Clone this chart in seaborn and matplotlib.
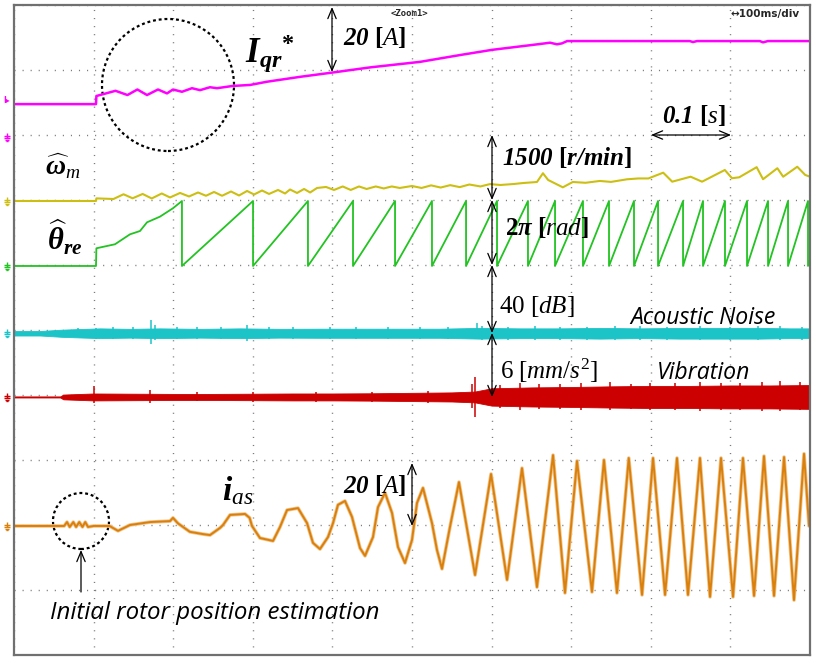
import numpy as np
import pandas as pd
import matplotlib
matplotlib.use("Agg")
import matplotlib.pyplot as plt
import seaborn as sns
from matplotlib.patches import Ellipse
from matplotlib.path import Path

# ---------------- data (time in ms, 100 ms/div) ----------------
# Iqr* command current [A]
iqr_t = [0, 103, 103.5, 127.5, 142.5, 155, 167.1, 180.9, 192.2, 199.7, 211, 223.6, 233.7,
         246.2, 255, 275, 296.6, 318, 359.5, 399.6, 447.2, 510, 560.3, 600.5, 660.8, 673.4,
         682.2, 688.5, 694.8, 849, 853, 858, 937, 941, 947, 1000]
iqr_a = [9.5, 9.5, 12.0, 13.6, 12.3, 14.0, 12.3, 14.0, 12.8, 14.0, 13.3, 14.4, 13.8,
         14.7, 14.4, 15.1, 15.4, 16.4, 17.9, 19.2, 20.8, 22.5, 24.6, 26.2, 28.0, 28.4,
         27.9, 28.2, 28.9, 28.9, 28.6, 28.9, 28.9, 28.5, 28.9, 28.9]

# estimated speed [r/min]
spd_t = [0, 103, 103.5, 125, 137.6, 149, 161.6, 173, 185.6, 196, 208.6, 219.9, 231.2, 241.2,
         251.3, 261.4, 272.6, 282.7, 292.8, 301.6, 311.6, 320.4, 331.7, 340.5, 346.8, 355.6,
         364.4, 372, 380.7, 392, 402, 413, 423, 433.4, 443, 454.5, 464.5, 474.6, 484.6, 500,
         512, 524, 536, 548, 560, 572, 586, 598, 611, 628, 640, 657, 664.5, 671, 689.5, 702,
         718, 736, 750, 770, 784.4, 797, 815.6, 826.9, 850, 864.4, 893, 902, 911, 933, 941,
         959, 966.3, 984, 994, 1000]
spd_rpm = [0, 0, 60, 46, 155, 62, 162, 58, 173, 81, 185, 104, 196, 120,
           208, 120, 219, 127, 231, 150, 242, 162, 254, 173, 265, 185,
           277, 196, 300, 323, 254, 335, 254, 335, 277, 335, 289, 335, 300, 346,
           300, 360, 310, 365, 320, 380, 335, 390, 369, 392, 415, 438, 640, 485, 315, 438,
           420, 462, 440, 500, 520, 520, 653, 445, 560, 445, 715, 525, 546, 780, 502,
           756, 560, 790, 600, 560]

# estimated electrical angle [rad]: first slow ramp, then wrap instants
theta_first_t = [0, 103, 103.5, 126.9, 145.7, 158.3, 167.1, 183.4, 199.7, 211]
theta_first_rad = [0, 0, 1.71, 2.1, 3.06, 3.38, 4.22, 4.77, 5.58, 6.28]
theta_wrap_t = [211, 300.3, 369.3, 425.9, 478.7, 525.1, 567.9, 606.8, 645.7, 679.7, 714.8,
                747.5, 778.9, 809.1, 840.5, 865.6, 893.2, 920.9, 947.3, 972.4, 997.5]
theta_end_rad = 0.6

# acoustic noise envelope [dB] and spikes
ac_env_t = [0, 33, 60, 83, 108, 146, 183, 234, 284, 334, 384, 435, 485, 535, 585, 636,
            686, 736, 786, 837, 887, 937, 975, 1000]
ac_env_db = [1.4, 1.4, 2.2, 2.6, 3.0, 2.7, 3.0, 2.7, 3.0, 2.7, 2.8, 2.8, 2.8, 2.8, 3.3, 3.0,
             3.0, 3.3, 3.0, 3.3, 3.3, 3.3, 3.0, 3.0]
ac_spk_t = [80.4, 103, 125, 150, 172, 177, 205, 230, 260, 292.7, 320, 350, 397, 430, 470,
            510, 545, 581.7, 588, 620, 655, 686, 720, 755, 786, 820, 862, 900, 935, 962, 990]
ac_spk_hi = [3.5, 3.5, 3.6, 3.8, 8.0, 5.0, 3.6, 3.8, 3.6, 4.8, 3.6, 3.7, 3.9, 3.6, 3.8,
             3.6, 3.8, 6.5, 4.4, 3.9, 4.2, 4.0, 4.1, 4.3, 4.2, 4.0, 4.3, 4.1, 4.4, 4.2, 4.0]
ac_spk_lo = [-2.4, -3.5, -3.5, -3.7, -6.5, -4.4, -3.5, -3.6, -3.7, -4.8, -3.5, -3.6, -3.8,
             -3.5, -3.7, -3.6, -3.7, -3.8, -4.4, -3.9, -4.1, -4.0, -4.2, -4.1, -4.2, -4.0,
             -4.1, -4.3, -4.1, -4.2, -4.0]

# vibration envelope [mm/s^2] and spikes
vib_env_t = [0, 58, 62, 100, 150, 200, 250, 300, 350, 400, 450, 500, 550, 579, 600, 650,
             700, 750, 800, 850, 900, 950, 1000]
vib_env = [0.05, 0.05, 0.22, 0.32, 0.3, 0.28, 0.28, 0.3, 0.32, 0.32, 0.34, 0.38, 0.42, 0.5,
           0.8, 0.88, 0.92, 0.98, 1.02, 1.02, 1.06, 1.06, 1.1]
vib_spk_t = [100.5, 171, 230, 300, 380, 450, 520, 575.4, 579, 610, 636, 660, 686, 712, 749,
             775, 799, 830, 862, 888, 912, 940, 962, 987]
vib_spk_hi = [1.0, 0.65, 0.42, 0.45, 0.46, 0.5, 0.55, 1.2, 1.85, 1.1, 1.3, 1.15, 1.2, 1.25,
              1.35, 1.2, 1.25, 1.3, 1.4, 1.25, 1.3, 1.35, 1.45, 1.35]
vib_spk_lo = [-0.55, -0.55, -0.4, -0.42, -0.45, -0.48, -0.52, -1.0, -1.85, -1.05, -1.2,
              -1.1, -1.1, -1.2, -1.25, -1.15, -1.2, -1.25, -1.3, -1.2, -1.2, -1.3, -1.3, -1.25]

# phase current i_as [A]
ias_t = [0, 60, 63, 66.6, 70, 74.5, 78, 82, 86, 89.5, 93, 100, 120, 130.7, 145.7, 170.9,
         196, 199.7, 206, 221, 237.4, 246.2, 258.8, 262.6, 271.4, 290.2, 296, 299, 309,
         325.4, 334.2, 343, 356.8, 368.1, 375.6, 384.4, 394.5, 400.8, 407, 415.8, 424.6,
         434.7, 441, 451, 457.3, 466.1, 474.9, 482.4, 491.2, 500, 506.3, 513.8, 525.1,
         531.4, 537.7, 547.7, 559, 579.2, 599.3, 619.4, 638.2, 657, 677.2, 692.2, 707.3,
         726.1, 741.2, 757.5, 772.3, 789, 802.8, 817.9, 832.9, 846.7, 861.8, 874.4, 888.2,
         903.3, 915.8, 929.7, 942.2, 954.8, 967.4, 979.9, 992.5, 998.8]
ias_a = [0, 0, 0, 1.2, -0.3, 1.2, -0.3, 1.2, -0.3, 1.2, -0.3, 0, 0.0, -1.5, 0.3, 1.2,
         1.5, 2.5, 0.8, -1.8, -2.5, -2.8, -0.6, 0.3, 3.4, 3.7, 2.5, 0, -3.7,
         -4.6, -0.3, 4.9, 5.5, 0.9, -5.2, -7.1, -3.4, 0.9, 6.5, 7.7, 2.8,
         -6.8, -9.2, -3.4, 5.8, 10.2, 4.0, -6.5, -11.4, -4.3, 7.1, 11.7, 0.9,
         -7.4, -13.2, -0.3, 13.5, -15.1, 16.0, -16.6, 17.8, -18.8, 21.8, -20.6, 20.0,
         -20.3, 20.3, -20.6, 20.9, -21.2, 20.9, -21.2, 20.9, -21.2, 20.9, -21.8, 20.9,
         -21.8, 20.9, -21.5, 21.5, -21.5, 21.2, -22.8, 22.2, 0]

# channel settings: (ground level [div], units per div, colour)
CH = {
    "iqr": (8.0, 20.0, "#ff00ff"),
    "spd": (6.985, 1500.0, "#cdbf12"),
    "th": (5.985, 2 * np.pi, "#22c322"),
    "ac": (4.95, 40.0, "#1cc4c8"),
    "vib": (3.97, 6.0, "#cc0000"),
    "ias": (1.985, 20.0, "#d9800c"),
}


def to_div(ch, vals):
    g, s, _ = CH[ch]
    return g + np.asarray(vals, dtype=float) / s


# build sawtooth from read wrap instants
th_t = list(theta_first_t)
th_v = list(theta_first_rad)
for a, b in zip(theta_wrap_t[:-1], theta_wrap_t[1:]):
    th_t += [a, b]
    th_v += [0.0, 2 * np.pi]
th_t += [theta_wrap_t[-1], 1000]
th_v += [0.0, theta_end_rad]

# ---------------- style ----------------
sns.set_style("white")
plt.rcParams["font.family"] = ["DejaVu Sans"]
plt.rcParams["mathtext.fontset"] = "custom"
plt.rcParams["mathtext.rm"] = "Liberation Serif"
plt.rcParams["mathtext.it"] = "Liberation Serif:italic"
plt.rcParams["mathtext.bf"] = "Liberation Serif:bold"
plt.rcParams["mathtext.bfit"] = "Liberation Serif:italic:bold"
plt.rcParams["mathtext.sf"] = "Liberation Sans"

fig = plt.figure(figsize=(8.17, 6.64), dpi=100)
fig.patch.set_facecolor("white")
ax = fig.add_axes([14 / 817, 9 / 664, 796 / 817, 650 / 664])
ax.set_xlim(0, 1000)
ax.set_ylim(0, 10)
ax.set_xticks(np.arange(0, 1001, 100))
ax.set_yticks(np.arange(0, 11, 1))
ax.tick_params(length=0, labelbottom=False, labelleft=False)
ax.grid(True, color="#7c7c7c", ls=(0, (0.8, 5.0)), lw=1.0)
for s in ax.spines.values():
    s.set_color("#707070")
    s.set_linewidth(1.6)


def X(px):
    return (px - 14) * 1000.0 / 796.0


def Y(py):
    return (655 - py) / 65.0


# ---------------- traces ----------------
sns.lineplot(x=iqr_t, y=to_div("iqr", iqr_a), estimator=None, sort=False,
             color=CH["iqr"][2], lw=1.8, ax=ax)
sns.lineplot(x=spd_t, y=to_div("spd", spd_rpm), estimator=None, sort=False,
             color=CH["spd"][2], lw=1.5, ax=ax)
sns.lineplot(x=th_t, y=to_div("th", th_v), estimator=None, sort=False,
             color=CH["th"][2], lw=1.3, ax=ax)

# acoustic noise band
ac_c = CH["ac"][0]
env = np.asarray(ac_env_db) / CH["ac"][1]
ax.fill_between(ac_env_t, ac_c - env, ac_c + env, color=CH["ac"][2], lw=0.6)
ax.vlines(ac_spk_t, to_div("ac", ac_spk_lo), to_div("ac", ac_spk_hi), color=CH["ac"][2], lw=1.1)

# vibration band
vb_c = CH["vib"][0]
env = np.asarray(vib_env) / CH["vib"][1]
ax.fill_between(vib_env_t, vb_c - env, vb_c + env, color=CH["vib"][2], lw=0.6)
ax.vlines(vib_spk_t, to_div("vib", vib_spk_lo), to_div("vib", vib_spk_hi), color=CH["vib"][2], lw=1.1)

# phase current with a light halo like the scope trace
sns.lineplot(x=ias_t, y=to_div("ias", ias_a), estimator=None, sort=False,
             color="#f2c48a", lw=2.6, ax=ax)
sns.lineplot(x=ias_t, y=to_div("ias", ias_a), estimator=None, sort=False,
             color=CH["ias"][2], lw=1.4, ax=ax)
for ln in ax.lines:
    ln.set_solid_joinstyle("round")

# ---------------- channel markers (ground symbol drawn as a shape) ----------------
gnd = Path([(-0.5, 0.0), (0.5, 0.0), (0.0, 0.0), (0.0, -0.45), (-0.5, -0.45), (0.5, -0.45),
            (-0.3, -0.7), (0.3, -0.7), (-0.12, -0.95), (0.12, -0.95), (0.0, 0.0), (0.0, 0.5)],
           [Path.MOVETO, Path.LINETO, Path.MOVETO, Path.LINETO, Path.MOVETO, Path.LINETO,
            Path.MOVETO, Path.LINETO, Path.MOVETO, Path.LINETO, Path.MOVETO, Path.LINETO])
for key, py in [("iqr", 136), ("spd", 200), ("th", 265), ("ac", 332), ("vib", 396), ("ias", 525)]:
    ax.plot([X(7)], [Y(py)], marker=gnd, ms=7, mew=1.0, mec=CH[key][2], mfc="none",
            ls="none", clip_on=False)
ax.text(X(7), Y(100), "I\u25b8", color=CH["iqr"][2], fontsize=5.5, ha="center", va="center",
        weight="bold", clip_on=False)

# ---------------- header texts ----------------
ax.text(X(409), Y(13), "<Zoom1>", fontsize=6.5, family="DejaVu Sans Mono", weight="bold",
        ha="center", va="center")
ax.text(X(731), Y(14), "\u2194100ms/div", fontsize=7.5, weight="bold", ha="left", va="center")


# ---------------- annotations ----------------
def dbl(x1, y1, x2, y2, style="<->"):
    ax.annotate("", xy=(X(x2), Y(y2)), xytext=(X(x1), Y(y1)),
                arrowprops=dict(arrowstyle=style + ",head_length=0.6,head_width=0.25",
                                lw=0.9, color="black", shrinkA=0, shrinkB=0,
                                mutation_scale=12))


dbl(332, 7, 332, 72)
dbl(651, 135, 731, 135)
dbl(492, 135, 492, 200)
dbl(492, 200, 492, 265)
dbl(492, 265, 492, 333)
dbl(492, 333, 492, 397)
dbl(412, 463, 412, 526)
dbl(81, 592, 81, 550, style="->")

for cx, cy, r in [(168, 85, 66), (81, 521, 28)]:
    ax.add_patch(Ellipse((X(cx), Y(cy)), width=2 * r * 1000 / 796, height=2 * r / 65,
                         fill=False, ec="black", lw=1.6, ls=(0, (1.3, 1.3))))

serif = dict(ha="left", va="baseline", color="black")
ax.text(X(245), Y(63), r"$\mathbfit{I}_{\mathbfit{qr}}{}^{\mathbf{*}}$", fontsize=25, **serif)
ax.text(X(343), Y(45), r"$\mathbfit{20}\ \mathbf{[}\mathit{A}\mathbf{]}$", fontsize=18, **serif)
ax.text(X(45), Y(175), r"$\widehat{\mathbfit{\omega}}_{\mathit{m}}$", fontsize=20, **serif)
ax.text(X(47), Y(250), r"$\widehat{\mathbfit{\theta}}_{\mathbfit{re}}$", fontsize=22, **serif)
ax.text(X(502), Y(165), r"$\mathbfit{1500}\ \mathbf{[}\mathbfit{r/min}\mathbf{]}$", fontsize=18, **serif)
ax.text(X(505), Y(235), r"$\mathbf{2}\mathbfit{\pi}\ \mathbf{[}\mathit{rad}\mathbf{]}$", fontsize=18, **serif)
ax.text(X(499), Y(313), r"$\mathrm{40}\ [\mathit{dB}]$", fontsize=18, **serif)
ax.text(X(500), Y(379), r"$\mathrm{6}\ [\mathit{mm/s}^{\mathrm{2}}]$", fontsize=18, **serif)
ax.text(X(222), Y(500), r"$\mathbfit{i}_{\mathit{as}}$", fontsize=24, **serif)
ax.text(X(343), Y(493), r"$\mathbfit{20}\ \mathbf{[}\mathit{A}\mathbf{]}$", fontsize=18, **serif)
ax.text(X(662), Y(123), r"$\mathbfit{0.1}\ \mathbf{[}\mathit{s}\mathbf{]}$", fontsize=18, **serif)

sans = dict(ha="left", va="baseline", color="black", family="Open Sans", style="italic")
ax.text(X(630), Y(324), "Acoustic Noise", fontsize=16.6, **sans)
ax.text(X(657), Y(379), "Vibration", fontsize=16.6, **sans)
ax.text(X(50), Y(619), "Initial rotor position estimation", fontsize=17.3, **sans)

fig.savefig("out.png", dpi=100, facecolor="white")
